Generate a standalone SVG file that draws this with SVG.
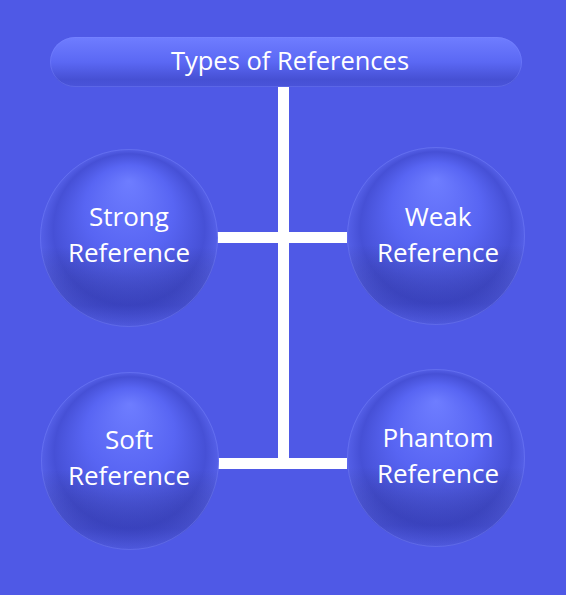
<svg xmlns="http://www.w3.org/2000/svg" width="566" height="595" viewBox="0 0 566 595">
<defs>
<radialGradient id="ball" cx="0.5" cy="0.5" r="0.5" fx="0.5" fy="0.18">
<stop offset="0" stop-color="#6e7dff"/>
<stop offset="0.5" stop-color="#5865f3"/>
<stop offset="0.85" stop-color="#4650d6"/>
<stop offset="1" stop-color="#5560e8"/>
</radialGradient>
<linearGradient id="shade" x1="0" y1="0" x2="0" y2="1">
<stop offset="0" stop-color="#000" stop-opacity="0"/>
<stop offset="0.55" stop-color="#000" stop-opacity="0"/>
<stop offset="0.88" stop-color="#1a1f80" stop-opacity="0.28"/>
<stop offset="1" stop-color="#1a1f80" stop-opacity="0.1"/>
</linearGradient>
<linearGradient id="pill" x1="0" y1="0" x2="0" y2="1">
<stop offset="0" stop-color="#6f7dff"/>
<stop offset="0.5" stop-color="#5b68f4"/>
<stop offset="0.85" stop-color="#4650d4"/>
<stop offset="1" stop-color="#4a54da"/>
</linearGradient>
</defs>
<style>
.bg{fill:#4f59e6}
.ln{fill:#ffffff}
.t{font-family:"Open Sans","Noto Sans",sans-serif;font-size:26px;fill:#ffffff;text-anchor:middle}
.tt{font-size:25.5px}
.rim{fill:none;stroke:#7f8aff;stroke-opacity:0.35;stroke-width:1}
</style>
<rect class="bg" x="0" y="0" width="566" height="595"/>
<g id="connectors">
<rect class="ln" x="278" y="87" width="11" height="381"/>
<rect class="ln" x="217" y="232" width="130" height="11"/>
<rect class="ln" x="217" y="458" width="130" height="11"/>
</g>
<g id="title">
<rect x="50" y="37" width="472" height="50" rx="25" fill="url(#pill)"/>
<rect x="50.5" y="37.5" width="471" height="49" rx="24.5" class="rim"/>
<text class="t tt" x="290" y="70">Types of References</text>
</g>
<g id="strong">
<circle cx="129" cy="238" r="89" fill="url(#ball)"/>
<circle cx="129" cy="238" r="89" fill="url(#shade)"/>
<circle cx="129" cy="238" r="88.5" class="rim"/>
<text class="t" x="129" y="226">Strong</text>
<text class="t" x="129" y="262">Reference</text>
</g>
<g id="weak">
<circle cx="436" cy="236" r="89" fill="url(#ball)"/>
<circle cx="436" cy="236" r="89" fill="url(#shade)"/>
<circle cx="436" cy="236" r="88.5" class="rim"/>
<text class="t" x="438" y="226">Weak</text>
<text class="t" x="438" y="262">Reference</text>
</g>
<g id="soft">
<circle cx="130" cy="461" r="89" fill="url(#ball)"/>
<circle cx="130" cy="461" r="89" fill="url(#shade)"/>
<circle cx="130" cy="461" r="88.5" class="rim"/>
<text class="t" x="129" y="449">Soft</text>
<text class="t" x="129" y="485">Reference</text>
</g>
<g id="phantom">
<circle cx="436" cy="458" r="89" fill="url(#ball)"/>
<circle cx="436" cy="458" r="89" fill="url(#shade)"/>
<circle cx="436" cy="458" r="88.5" class="rim"/>
<text class="t" x="438" y="447">Phantom</text>
<text class="t" x="438" y="483">Reference</text>
</g>
</svg>
